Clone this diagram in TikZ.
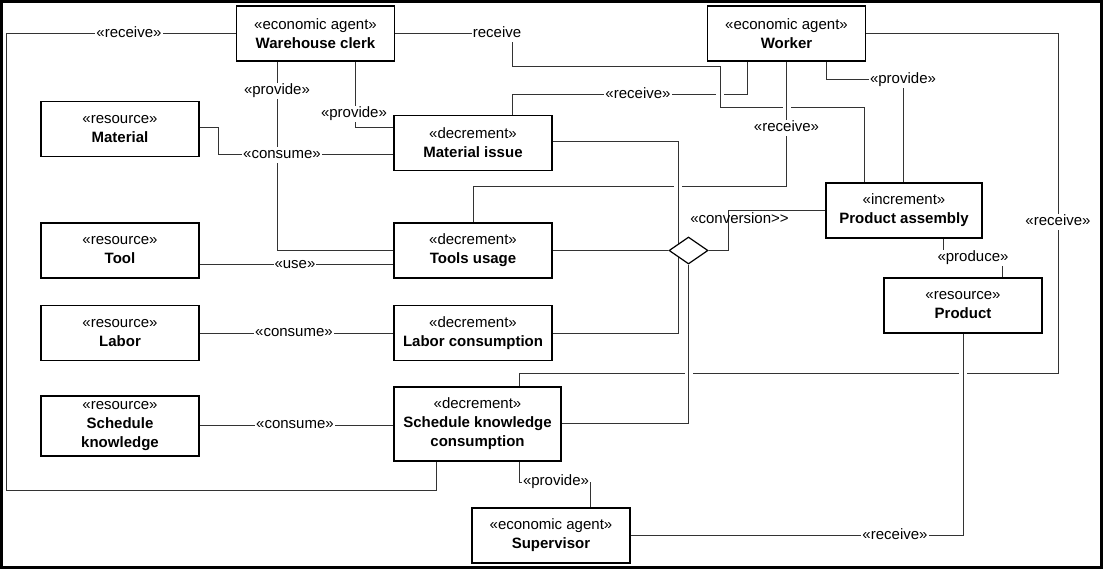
\documentclass[tikz,border=0pt]{standalone}
\usepackage{fontspec}
\setmainfont{Liberation Sans}
\usetikzlibrary{shapes.geometric}
\pgfdeclarelayer{bg}
\pgfsetlayers{bg,main}
\begin{document}
\begin{tikzpicture}[x=1pt,y=-1pt,
  box/.style={draw=black, line width=1.3pt, fill=white, minimum width=158pt,
    minimum height=55pt, inner sep=0pt, align=center,
    font=\fontsize{15}{19}\selectfont},
  conn/.style={draw=black!80, line width=1pt},
  lbl/.style={fill=white, inner sep=1pt, text height=11pt, text depth=3.5pt,
    font=\fontsize{15}{19}\selectfont},
  gap/.style={fill=white}
]
\useasboundingbox (0,0) rectangle (1103,569);
\draw[line width=3pt] (1.5,1.5) rectangle (1101.5,567.5);

% economic agents
\node[box] (clerk)  at (315.5,33.5) {«economic agent»\\\textbf{Warehouse clerk}};
\node[box] (worker) at (786.5,33.5) {«economic agent»\\\textbf{Worker}};
\node[box] (sup)    at (551,535.5)  {«economic agent»\\\textbf{Supervisor}};

% resources
\node[box] (material) at (120,129)   {«resource»\\\textbf{Material}};
\node[box] (tool)     at (120,250.5) {«resource»\\\textbf{Tool}};
\node[box] (labor)    at (120,333)   {«resource»\\\textbf{Labor}};
\node[box, minimum height=60pt] (sk) at (120,426) {«resource»\\\textbf{Schedule}\\\textbf{knowledge}};
\node[box] (product)  at (963,305.5) {«resource»\\\textbf{Product}};

% events
\node[box] (mi)  at (473,143)   {«decrement»\\\textbf{Material issue}};
\node[box] (tu)  at (473,250.5) {«decrement»\\\textbf{Tools usage}};
\node[box] (lc)  at (473,333)   {«decrement»\\\textbf{Labor consumption}};
\node[box, minimum width=167pt, minimum height=74pt] (skc) at (477.5,424)
  {«decrement»\\\textbf{Schedule knowledge}\\\textbf{consumption}};
\node[box, minimum width=156pt] (pa) at (904,210.5) {«increment»\\\textbf{Product assembly}};

% conversion association
\node[diamond, draw=black, line width=1.2pt, fill=white, minimum width=39pt,
  minimum height=27pt, inner sep=0pt] (dia) at (688.5,250.5) {};

\begin{pgfonlayer}{bg}
% clerk receives from schedule knowledge consumption
\draw[conn] (clerk.west) -- (6,33.5) -- (6,490) -- (436,490) -- (skc.south -| 436,0);
% worker receives from material issue
\draw[conn] (worker.south -| 747,0) -- (747,95) -- (512,95) -- (mi.north -| 512,0);
\fill[gap] (716,93) rectangle (724,97);
% clerk receives from product assembly
\draw[conn] (clerk.east) -- (512,33.5) -- (512,67) -- (720,67) -- (720,108)
  -- (864,108) -- (pa.north -| 864,0);
\fill[gap] (782.5,106) rectangle (790.5,110);
% worker receives from tools usage
\draw[conn] (worker.south) -- (786.5,187) -- (473,187) -- (tu.north);
\fill[gap] (674,185) rectangle (682,189);
% material issue and labor consumption into the conversion
\draw[conn] (mi.east |- 0,142) -- (678,142) -- (678,250.5);
\draw[conn] (lc.east) -- (678,333) -- (678,250.5);
% worker receives from schedule knowledge consumption
\draw[conn] (worker.east) -- (1058,33.5) -- (1058,373) -- (519,373) -- (skc.north -| 519,0);
\fill[gap] (684.5,371) rectangle (692.5,375);
\fill[gap] (959,371) rectangle (967,375);
\draw[conn] (skc.east |- 0,423) -- (688.5,423) -- (dia.south);
\draw[conn] (sup.east) -- (963,535.5) -- (product.south);
% provide / consume / use
\draw[conn] (clerk.south -| 277,0) -- (277,251) -- (tu.west |- 0,251);
\draw[conn] (clerk.south -| 355,0) -- (355,128) -- (mi.west |- 0,128);
\draw[conn] (material.east |- 0,128) -- (218,128) -- (218,155) -- (mi.west |- 0,155);
\draw[conn] (tool.east |- 0,265) -- (tu.west |- 0,265);
\draw[conn] (labor.east) -- (lc.west);
\draw[conn] (sk.east |- 0,425) -- (skc.west |- 0,425);
\draw[conn] (tu.east) -- (dia.west);
\draw[conn] (dia.east) -- (728,250.5) -- (728,211) -- (pa.west |- 0,211);
\draw[conn] (pa.south -| 943,0) -- (943,258) -- (1002,258) -- (product.north -| 1002,0);
\draw[conn] (skc.south -| 519,0) -- (519,482) -- (590,482) -- (sup.north -| 590,0);
\draw[conn] (worker.south -| 826,0) -- (826,80) -- (903,80) -- (pa.north -| 903,0);
\end{pgfonlayer}

% connector labels
\node[lbl] (l1)  at (129,33.5)  {«receive»};
\node[lbl] (l2)  at (497,33.5)  {receive};
\node[lbl] (l3)  at (638,95)    {«receive»};
\node[lbl] (l4)  at (786.5,128) {«receive»};
\node[lbl] (l5)  at (903,80)    {«provide»};
\node[lbl] (l6)  at (1058,222)  {«receive»};
\node[lbl] (l7)  at (277,91)    {«provide»};
\node[lbl] (l8)  at (354,114)   {«provide»};
\node[lbl] (l9)  at (282,155)   {«consume»};
\node[lbl] (l10) at (295,265)   {«use»};
\node[lbl] (l11) at (294,333)   {«consume»};
\node[lbl] (l12) at (295,425)   {«consume»};
\node[lbl, fill=none] (l13) at (739.5,220) {«conversion>\kern0pt>};
\node[lbl] (l14) at (973,258)   {«produce»};
\node[lbl] (l15) at (556,482)   {«provide»};
\node[lbl] (l16) at (895,535.5) {«receive»};
\end{tikzpicture}
\end{document}
